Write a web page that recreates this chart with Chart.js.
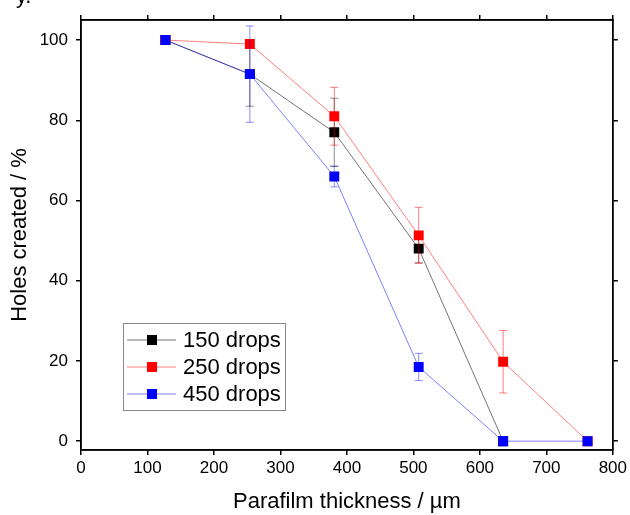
<!DOCTYPE html>
<html>
<head>
<meta charset="utf-8">
<script src="https://cdn.jsdelivr.net/npm/chart.js@4.4.1/dist/chart.umd.min.js"></script>
<style>
  html, body { margin: 0; padding: 0; background: #fff; }
  #wrap { width: 630px; height: 515px; position: relative; }
</style>
</head>
<body>
<div id="wrap"><canvas id="chart" width="630" height="515"></canvas></div>
<script>
// données
const thickness = [127, 254, 381, 508, 635, 762];
const xTicks = [0, 100, 200, 300, 400, 500, 600, 700, 800];
const yTicks = [0, 20, 40, 60, 80, 100];

const drops150 = [100, 91.5, 77, 48, 0];
const drops150Err = [0, 8, 8.5, 3.5, 0];
const drops250 = [100, 99, 81, 51.3, 19.8, 0];
const drops250Err = [0, 1, 7.2, 7, 7.8, 0];
const drops450 = [100, 91.5, 66, 18.5, 0, 0];
const drops450Err = [0, 12, 2.6, 3.4, 0, 0];

const seriesNames = ["150 drops", "250 drops", "450 drops"];

function toPoints(vals, errs) {
  return vals.map((v, i) => ({ x: thickness[i], y: v, err: errs[i] }));
}

const FONT = "'Liberation Sans', Arial, sans-serif";

// barres d'erreur dessinées via les échelles
const errorBars = {
  id: 'errorBars',
  beforeDatasetDraw(chart, args) {
    const ds = chart.data.datasets[args.index];
    const xs = chart.scales.x, ys = chart.scales.y;
    const ctx = chart.ctx;
    ctx.save();
    ctx.strokeStyle = ds.errColor;
    ctx.lineWidth = 1;
    ds.data.forEach(p => {
      if (!p.err) return;
      const px = xs.getPixelForValue(p.x);
      const top = ys.getPixelForValue(p.y + p.err);
      const bot = ys.getPixelForValue(p.y - p.err);
      ctx.beginPath();
      ctx.moveTo(px, top); ctx.lineTo(px, bot);
      ctx.moveTo(px - 4, top); ctx.lineTo(px + 4, top);
      ctx.moveTo(px - 4, bot); ctx.lineTo(px + 4, bot);
      ctx.stroke();
    });
    ctx.restore();
  }
};

// cadre + légende dans le graphe
const frameLegend = {
  id: 'frameLegend',
  afterDraw(chart) {
    const ctx = chart.ctx;
    const a = chart.chartArea;
    ctx.save();
    ctx.strokeStyle = '#000';
    ctx.lineWidth = 1.5;
    ctx.strokeRect(a.left, a.top, a.right - a.left, a.bottom - a.top);

    // bout de légende coupé en haut à gauche
    ctx.fillStyle = '#000';
    ctx.font = '22px ' + FONT;
    ctx.textBaseline = 'alphabetic';
    ctx.fillText('y.', 16, 3);

    // légende
    const bx = 123, by = 323, bw = 162, bh = 87;
    ctx.lineWidth = 1;
    ctx.strokeStyle = '#888';
    ctx.strokeRect(bx + 0.5, by + 0.5, bw, bh);
    const rows = [340, 367, 394];
    ctx.font = '22px ' + FONT;
    ctx.textBaseline = 'middle';
    chart.data.datasets.forEach((ds, i) => {
      const y = rows[i];
      ctx.strokeStyle = ds.borderColor;
      ctx.beginPath();
      ctx.moveTo(127, y); ctx.lineTo(176, y);
      ctx.stroke();
      ctx.fillStyle = ds.pointBackgroundColor;
      ctx.fillRect(147, y - 5, 10, 10);
      ctx.fillStyle = '#000';
      ctx.fillText(ds.label, 183, y + 1);
    });
    ctx.restore();
  }
};

const keepTicks = list => scale => {
  scale.ticks = list.map(v => ({ value: v }));
};

const ctx = document.getElementById("chart").getContext("2d");
new Chart(ctx, {
  type: 'line',
  data: {
    datasets: [
      {
        label: seriesNames[0],
        data: toPoints(drops150, drops150Err),
        borderColor: 'rgba(0,0,0,0.55)',
        errColor: 'rgba(0,0,0,0.45)',
        pointBackgroundColor: '#000',
        order: 2
      },
      {
        label: seriesNames[1],
        data: toPoints(drops250, drops250Err),
        borderColor: 'rgba(255,0,0,0.5)',
        errColor: 'rgba(255,0,0,0.5)',
        pointBackgroundColor: '#ff0000',
        order: 1
      },
      {
        label: seriesNames[2],
        data: toPoints(drops450, drops450Err),
        borderColor: 'rgba(0,0,255,0.5)',
        errColor: 'rgba(0,0,255,0.45)',
        pointBackgroundColor: '#0000ff',
        order: 0
      }
    ].map(ds => Object.assign(ds, {
      borderWidth: 1,
      tension: 0,
      pointStyle: 'rect',
      pointRadius: 7,
      pointBorderWidth: 0,
      pointBorderColor: ds.pointBackgroundColor,
      fill: false
    }))
  },
  options: {
    responsive: false,
    animation: false,
    layout: { padding: { left: 0, top: 15, right: 10, bottom: 0 } },
    plugins: { legend: { display: false }, tooltip: { enabled: false } },
    scales: {
      x: {
        type: 'linear',
        position: 'bottom',
        min: 0, max: 800,
        afterBuildTicks: keepTicks(xTicks),
        afterFit(s) { s.height = 65; },
        border: { display: true, color: '#000', width: 1.5 },
        grid: { drawOnChartArea: false, drawTicks: true, tickLength: 5, color: '#000', lineWidth: 1.5 },
        ticks: { color: '#000', font: { family: FONT, size: 17 }, padding: 3, maxRotation: 0 },
        title: { display: true, text: 'Parafilm thickness / µm', color: '#000', font: { family: FONT, size: 22 }, padding: { top: 0, bottom: 0 } }
      },
      x2: {
        type: 'linear',
        position: 'top',
        min: 0, max: 800,
        afterBuildTicks: keepTicks(xTicks),
        afterFit(s) { s.height = 5; },
        border: { display: true, color: '#000', width: 1.5 },
        grid: { drawOnChartArea: false, drawTicks: true, tickLength: 5, color: '#000', lineWidth: 1.5 },
        ticks: { display: false }
      },
      y: {
        type: 'linear',
        position: 'left',
        min: -2.2, max: 105,
        afterBuildTicks: keepTicks(yTicks),
        afterFit(s) { s.width = 81; },
        border: { display: true, color: '#000', width: 1.5 },
        grid: { drawOnChartArea: false, drawTicks: true, tickLength: 5, color: '#000', lineWidth: 1.5 },
        ticks: { color: '#000', font: { family: FONT, size: 17 }, padding: 8 },
        title: { display: true, text: 'Holes created / %', color: '#000', font: { family: FONT, size: 22 }, padding: { top: 7, bottom: 0 } }
      },
      y2: {
        type: 'linear',
        position: 'right',
        min: -2.2, max: 105,
        afterBuildTicks: keepTicks(yTicks),
        afterFit(s) { s.width = 6; },
        border: { display: true, color: '#000', width: 1.5 },
        grid: { drawOnChartArea: false, drawTicks: true, tickLength: 5, color: '#000', lineWidth: 1.5 },
        ticks: { display: false }
      }
    }
  },
  plugins: [errorBars, frameLegend]
});
</script>
</body>
</html>
